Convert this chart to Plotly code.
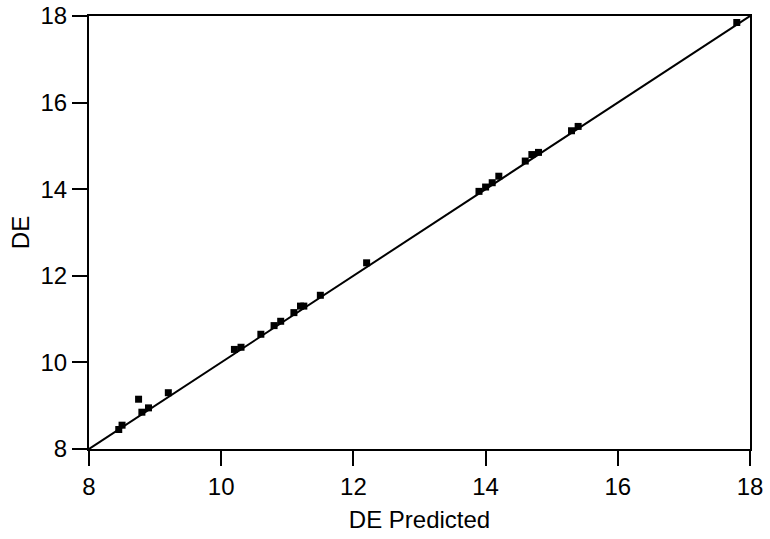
import plotly.graph_objects as go

de_predicted = [8.45, 8.5, 8.75, 8.8, 8.9, 9.2, 10.2, 10.3, 10.6, 10.8, 10.9, 11.1, 11.2, 11.25,
                11.5, 12.2, 13.9, 14.0, 14.1, 14.2, 14.6, 14.7, 14.8, 15.3, 15.4, 17.8]
de_actual = [8.45, 8.55, 9.15, 8.85, 8.95, 9.3, 10.3, 10.35, 10.65, 10.85, 10.95, 11.15, 11.3, 11.3,
             11.55, 12.3, 13.95, 14.05, 14.15, 14.3, 14.65, 14.8, 14.85, 15.35, 15.45, 17.85]
line_x = [8, 18]
line_y = [8, 18]
tick_vals = [8, 10, 12, 14, 16, 18]

fig = go.Figure()
fig.add_trace(go.Scatter(x=line_x, y=line_y, mode="lines",
                         line=dict(color="black", width=2), showlegend=False, hoverinfo="skip"))
fig.add_trace(go.Scatter(x=de_predicted, y=de_actual, mode="markers",
                         marker=dict(symbol="square", color="black", size=7,
                                     line=dict(width=0)), showlegend=False))

axis_common = dict(range=[8, 18], tickvals=tick_vals, ticks="outside", ticklen=15, tickwidth=2,
                   tickcolor="black", showline=True, linecolor="black", linewidth=2, mirror=True,
                   showgrid=False, zeroline=False, automargin=False,
                   tickfont=dict(size=24, color="black"))

fig.update_xaxes(title=dict(text="DE Predicted", font=dict(size=24, color="black"), standoff=12),
                 **axis_common)
fig.update_yaxes(title=dict(text="DE", font=dict(size=24, color="black"), standoff=4),
                 **axis_common)

fig.update_layout(width=770, height=539, margin=dict(l=89, r=20, t=16, b=90),
                  plot_bgcolor="white", paper_bgcolor="white",
                  font=dict(family="Liberation Sans, Arial, sans-serif", color="black"))

fig.write_html("out.html")
